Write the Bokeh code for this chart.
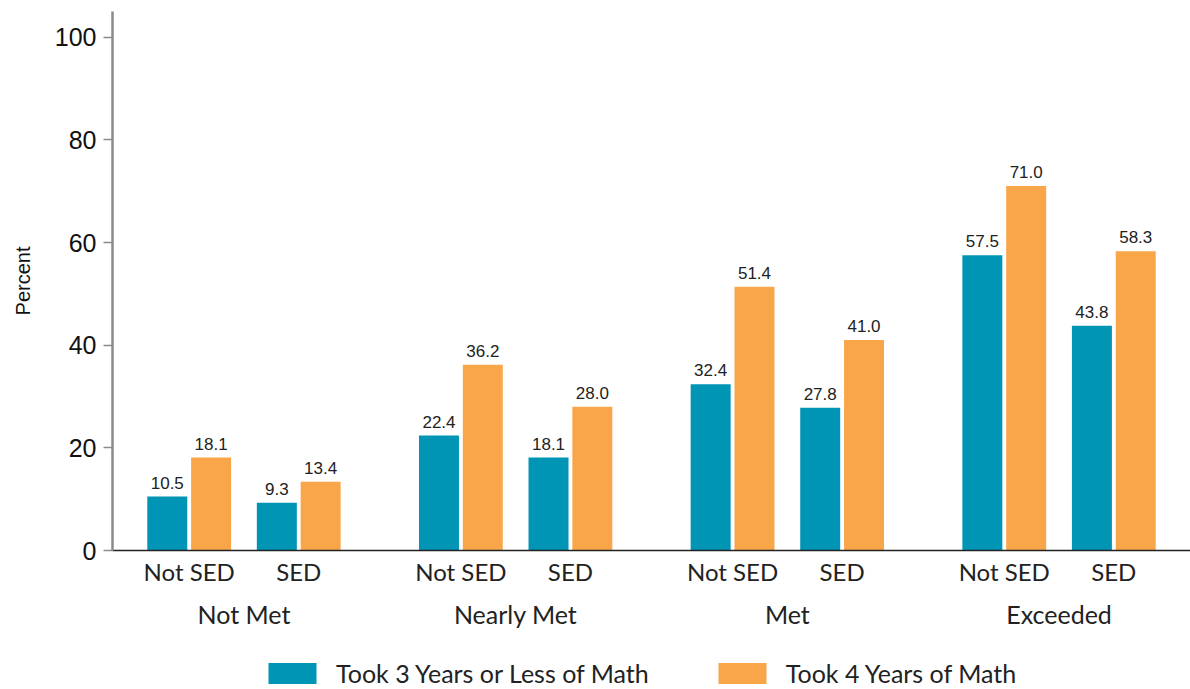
from bokeh.plotting import figure
from bokeh.models import (FactorRange, ColumnDataSource, Range1d, FixedTicker, Legend,
                          LegendItem, CategoricalAxis)
from bokeh.layouts import column
from bokeh.transform import dodge
from bokeh.core.properties import value
from bokeh.embed import file_html
from bokeh.resources import INLINE

groups = ["Not Met", "Nearly Met", "Met", "Exceeded"]
subgroups = ["Not SED", "SED"]
series_names = ["Took 3 Years or Less of Math", "Took 4 Years of Math"]
three_or_less = [10.5, 9.3, 22.4, 18.1, 32.4, 27.8, 57.5, 43.8]
four_years = [18.1, 13.4, 36.2, 28.0, 51.4, 41.0, 71.0, 58.3]
y_ticks = [0, 20, 40, 60, 80, 100]

TEAL = "#0095B5"
ORANGE = "#F9A64A"

factors = [(g, s) for g in groups for s in subgroups]
src = ColumnDataSource(dict(
    x=factors,
    a=three_or_less,
    b=four_years,
    la=[f"{v:.1f}" for v in three_or_less],
    lb=[f"{v:.1f}" for v in four_years],
))

GP = 0.48
PAD = 0.2
xr = FactorRange(*factors, factor_padding=0.0, group_padding=GP,
                 range_padding=PAD, range_padding_units="absolute")

p = figure(x_range=xr, y_range=Range1d(0, 105),
           frame_width=1078, frame_height=539,
           output_backend="svg", toolbar_location=None,
           min_border_left=112, min_border_right=0, min_border_top=11,
           min_border_bottom=100)

# group-level range aligned with the nested range (for the group label axis)
p.extra_x_ranges = {"groups": FactorRange(*groups, factor_padding=1.0 + GP,
                                          range_padding=PAD + 0.5,
                                          range_padding_units="absolute")}

r1 = p.vbar(x=dodge("x", -0.2, range=p.x_range), top="a", width=0.365, source=src,
            fill_color=TEAL, line_color=None)
r2 = p.vbar(x=dodge("x", 0.2, range=p.x_range), top="b", width=0.365, source=src,
            fill_color=ORANGE, line_color=None)

p.text(x=dodge("x", -0.2, range=p.x_range), y="a", text="la", source=src,
       text_align="center", text_baseline="bottom", y_offset=-8,
       text_font=value("Liberation Sans"), text_font_size="17px", text_color="#222222")
p.text(x=dodge("x", 0.2, range=p.x_range), y="b", text="lb", source=src,
       text_align="center", text_baseline="bottom", y_offset=-8,
       text_font=value("Liberation Sans"), text_font_size="17px", text_color="#222222")

p.xgrid.visible = False
p.ygrid.visible = False
p.outline_line_color = None

ya = p.yaxis[0]
ya.ticker = FixedTicker(ticks=y_ticks)
ya.axis_label = "Percent"
ya.axis_label_text_font = "Liberation Sans"
ya.axis_label_text_font_size = "20px"
ya.axis_label_text_font_style = "normal"
ya.axis_label_text_color = "#111111"
ya.axis_label_standoff = 18
ya.major_label_text_font = "Liberation Sans"
ya.major_label_text_font_size = "25px"
ya.major_label_text_color = "#111111"
ya.major_label_standoff = 7
ya.axis_line_color = "#8a8a8a"
ya.axis_line_width = 2.5
ya.major_tick_line_color = "#8a8a8a"
ya.major_tick_line_width = 1.5
ya.major_tick_out = 9
ya.major_tick_in = 0
ya.minor_tick_line_color = None

xa = p.xaxis[0]
xa.axis_line_color = "#222222"
xa.axis_line_width = 1.5
xa.major_tick_line_color = None
xa.minor_tick_line_color = None
xa.major_label_text_font = "Lato"
xa.major_label_text_font_size = "24px"
xa.major_label_text_color = "#222222"
xa.major_label_standoff = 0
xa.group_text_font = "Lato"
xa.group_text_font_size = "1px"
xa.group_text_color = None
xa.separator_line_alpha = 0

ga = CategoricalAxis(x_range_name="groups")
ga.axis_line_color = None
ga.major_tick_line_color = None
ga.minor_tick_line_color = None
ga.major_label_text_font = "Lato"
ga.major_label_text_font_size = "25px"
ga.major_label_text_color = "#222222"
ga.major_label_standoff = 4
p.add_layout(ga, "below")

# legend strip as its own small figure beneath the chart (frame aligned with the chart)
q = figure(width=1190, height=39, x_range=Range1d(0, 1), y_range=Range1d(0, 1),
           output_backend="svg", toolbar_location=None,
           min_border=0, min_border_left=0, min_border_right=0,
           min_border_top=0, min_border_bottom=0)
q.axis.visible = False
q.xgrid.visible = False
q.ygrid.visible = False
q.outline_line_color = None
proxy = ColumnDataSource(dict(x=[-1.0], top=[0.0]))
l1 = q.vbar(x="x", top="top", width=0.1, source=proxy, fill_color=TEAL, line_color=None)
l2 = q.vbar(x="x", top="top", width=0.1, source=proxy, fill_color=ORANGE, line_color=None)

legend = Legend(items=[LegendItem(label=series_names[0], renderers=[l1]),
                       LegendItem(label=series_names[1], renderers=[l2])],
                orientation="horizontal", location=(150, 1),
                label_text_font="Lato", label_text_font_size="25px",
                label_text_color="#222222",
                glyph_width=60, glyph_height=26, label_standoff=14,
                spacing=63, padding=0, margin=0,
                border_line_color=None, background_fill_alpha=0)
q.add_layout(legend, "center")

layout = column(p, q, spacing=0)
open("out.html", "w").write(file_html(layout, INLINE))
